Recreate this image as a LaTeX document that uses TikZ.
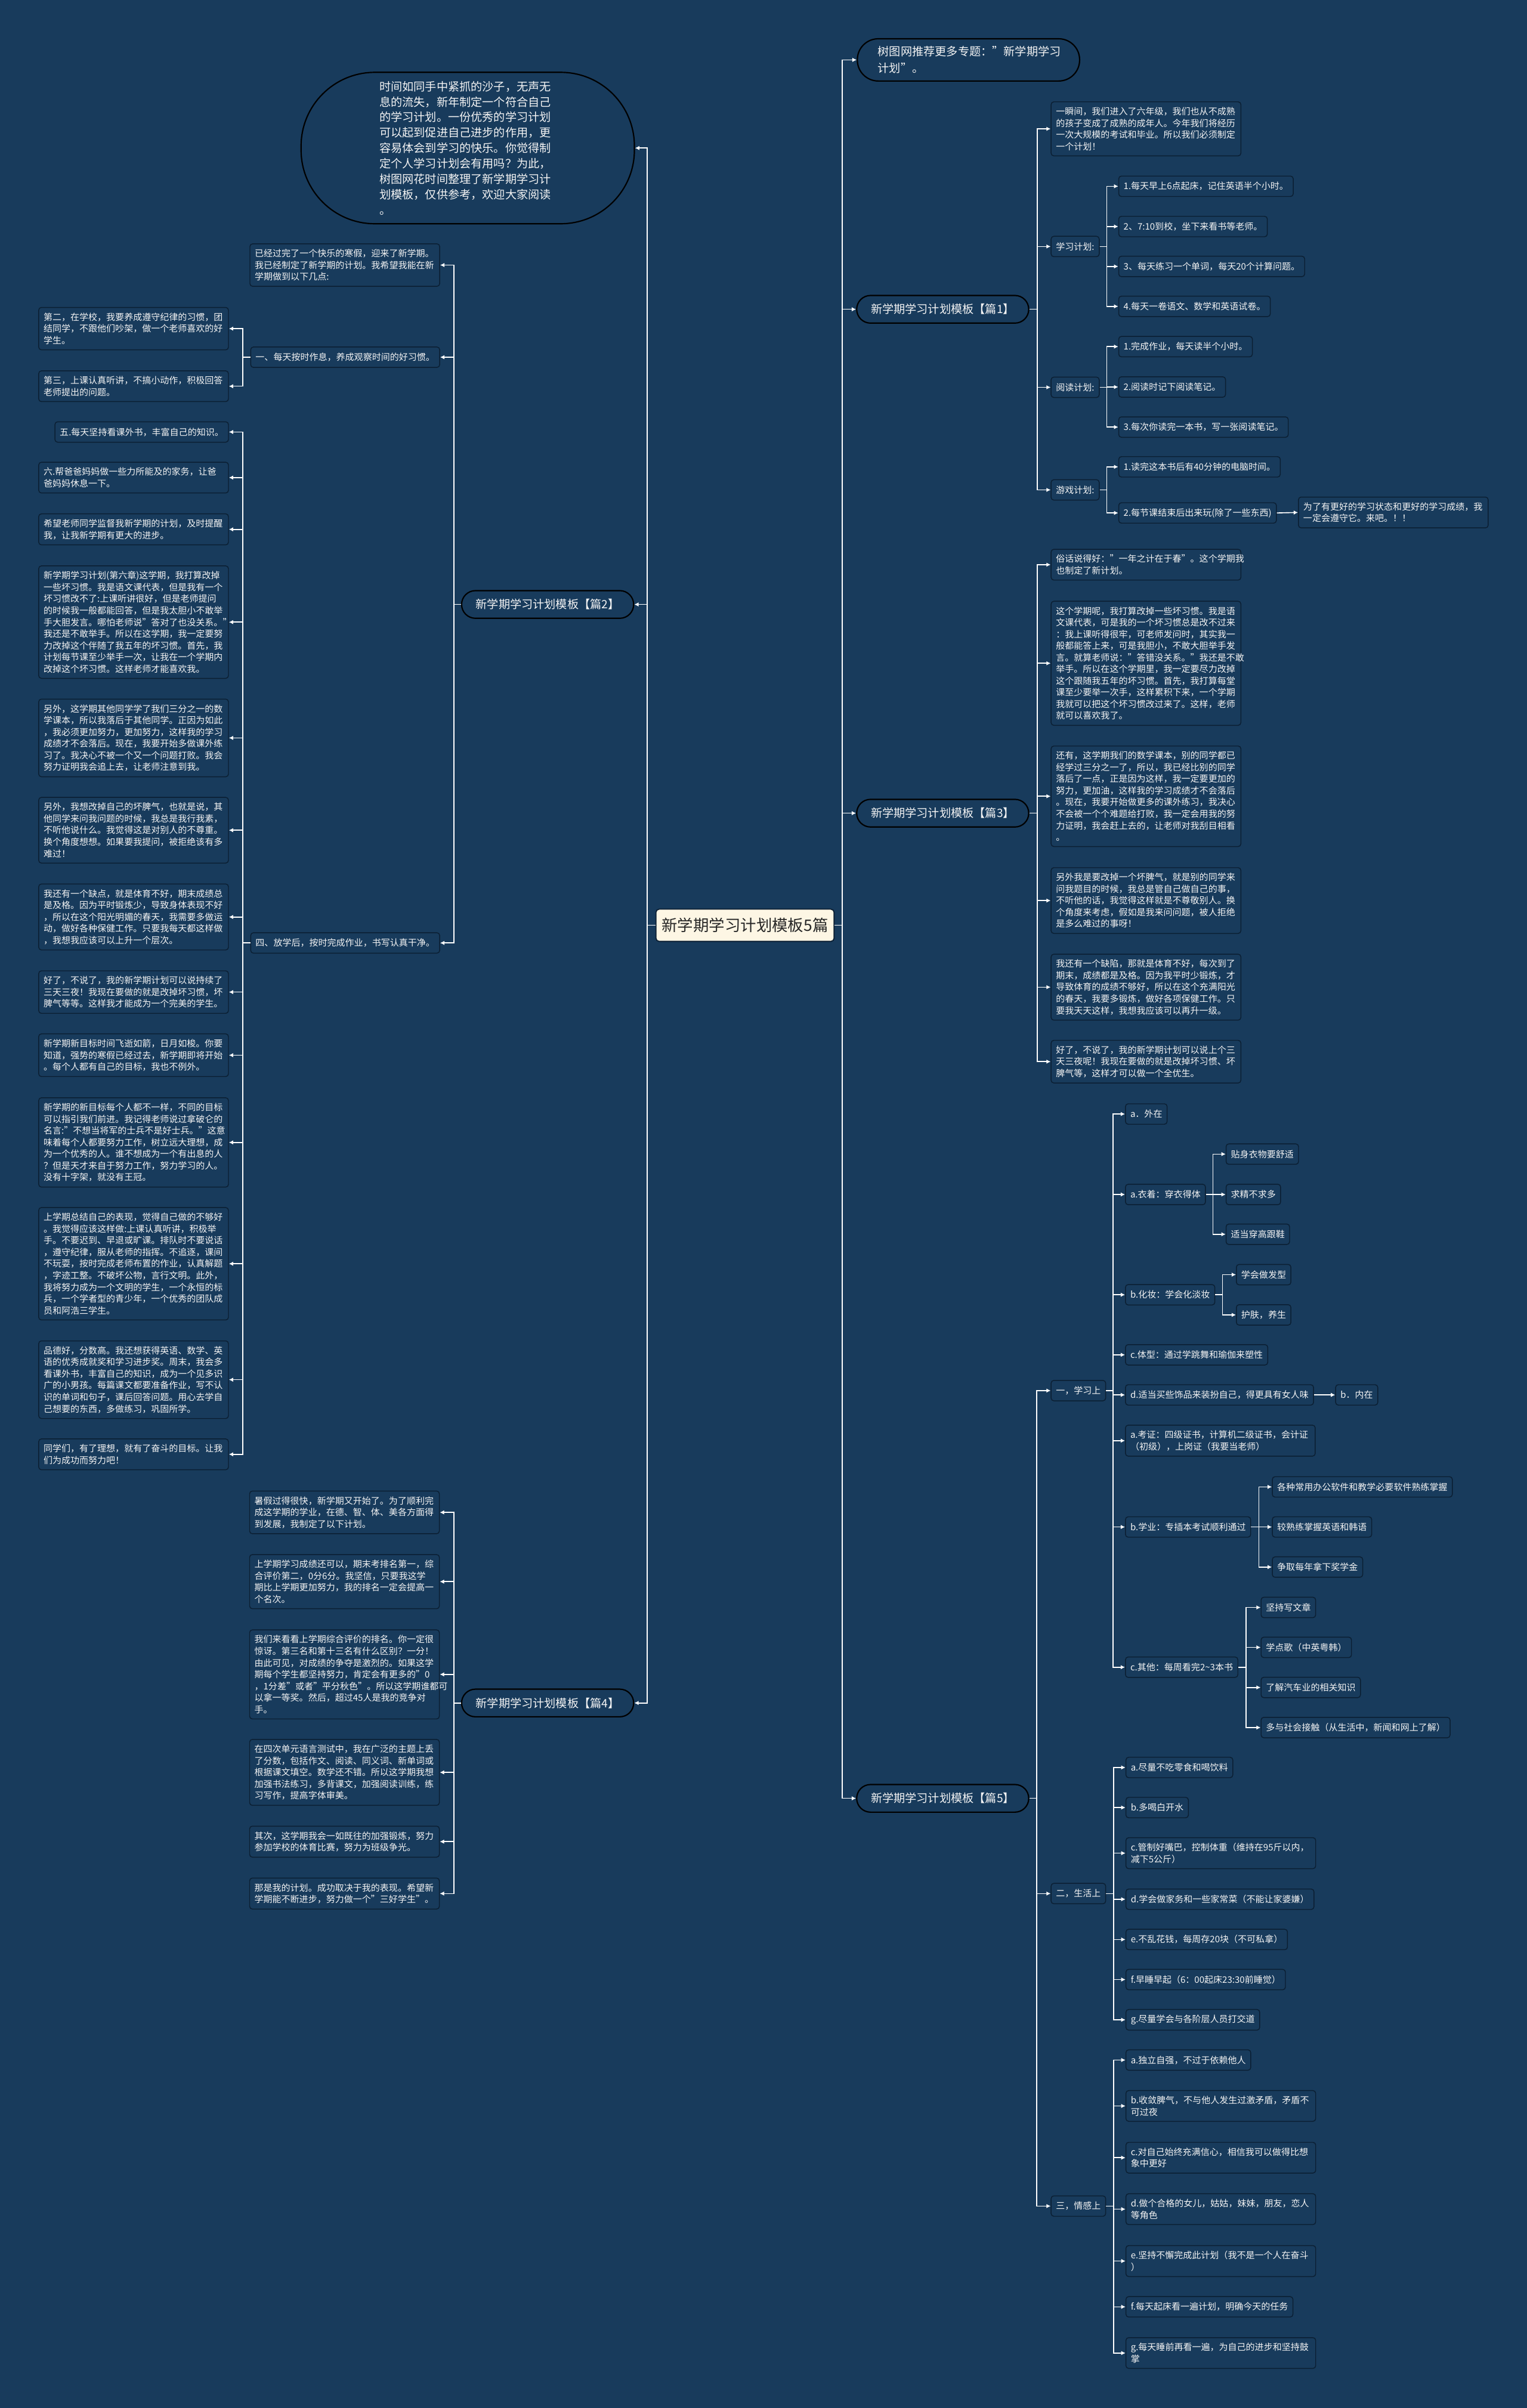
\documentclass[tikz,border=0pt]{standalone}
\usepackage{fontspec}
\setmainfont{Noto Sans CJK SC}
\usetikzlibrary{arrows.meta}
\definecolor{bgblue}{HTML}{183B5C}
\definecolor{edgedark}{HTML}{0B1F33}
\definecolor{rootfill}{HTML}{FDF6E4}
\definecolor{inkwhite}{HTML}{F4F4F4}

\begin{document}
\begin{tikzpicture}[
    x=0.05cm, y=-0.05cm,
    >={Latex[length=4pt,width=4pt]},
    rootbox/.style={draw=edgedark, line width=1pt, fill=rootfill, rounded corners=3pt, text=black!85, font=\fontsize{14.6}{16}\selectfont, minimum width=5.8cm, minimum height=1.05cm},
    topic/.style={draw=black, line width=1.2pt, fill=bgblue, rounded corners=0.45cm, text=inkwhite, font=\fontsize{10.6}{14}\selectfont, minimum width=5.6cm, minimum height=0.9cm},
    notebox/.style={topic, rounded corners=0.68cm, minimum width=7.235cm, minimum height=1.375cm, text width=5.9cm, align=left, font=\fontsize{10.6}{15.6}\selectfont},
    introbox/.style={topic, rounded corners=2.4cm, minimum width=10.85cm, minimum height=4.93cm, text width=5.75cm, align=left, font=\fontsize{10.6}{14.3}\selectfont},
    leaf/.style={draw=edgedark, line width=0.8pt, fill=bgblue, rounded corners=2.5pt, text=inkwhite, font=\fontsize{8.3}{10.8}\selectfont, inner xsep=4.5pt, inner ysep=5pt, minimum height=0.665cm, align=left},
    wide/.style={leaf, text width=5.86cm},
    arrow/.style={->, draw=white, line width=0.9pt}
  ]
    \useasboundingbox (0,0) rectangle (994,1568);
    \fill[bgblue] (0,0) rectangle (994,1568);

    % centre
    \node[rootbox] (root) at (485,602.5) {新学期学习计划模板5篇};

    % left half
    \node[introbox] (intro) at (304.5,96.4) {时间如同手中紧抓的沙子，无声无\\息的流失，新年制定一个符合自己\\的学习计划。一份优秀的学习计划\\可以起到促进自己进步的作用，更\\容易体会到学习的快乐。你觉得制\\定个人学习计划会有用吗？为此，\\树图网花时间整理了新学期学习计\\划模板，仅供参考，欢迎大家阅读\\。};
    \node[topic] (p2) at (356.5,393.6) {新学期学习计划模板【篇2】};
    \node[topic] (p4) at (356.5,1108.9) {新学期学习计划模板【篇4】};

    \node[wide, anchor=east] (winter) at (286.5,172.6) {已经过完了一个快乐的寒假，迎来了新学期。\\我已经制定了新学期的计划。我希望我能在新\\学期做到以下几点:};
    \node[leaf, anchor=east] (rest) at (286.5,232.6) {一、每天按时作息，养成观察时间的好习惯。};
    \node[leaf, anchor=east] (after) at (286.5,614) {四、放学后，按时完成作业，书写认真干净。};

    \node[wide, anchor=east] (second) at (149,214) {第二，在学校，我要养成遵守纪律的习惯，团\\结同学，不跟他们吵架，做一个老师喜欢的好\\学生。};
    \node[wide, anchor=east] (third) at (149,251.5) {第三，上课认真听讲，不搞小动作，积极回答\\老师提出的问题。};

    \node[leaf, anchor=east] (five) at (149,281.3) {五.每天坚持看课外书，丰富自己的知识。};
    \node[wide, anchor=east] (six) at (149,311) {六.帮爸爸妈妈做一些力所能及的家务，让爸\\爸妈妈休息一下。};
    \node[wide, anchor=east] (hope) at (149,344.7) {希望老师同学监督我新学期的计划，及时提醒\\我，让我新学期有更大的进步。};
    \node[wide, anchor=east] (ch6) at (149,405.1) {新学期学习计划(第六章)这学期，我打算改掉\\一些坏习惯。我是语文课代表，但是我有一个\\坏习惯改不了:上课听讲很好，但是老师提问\\的时候我一般都能回答，但是我太胆小不敢举\\手大胆发言。哪怕老师说"答对了也没关系。"\\我还是不敢举手。所以在这学期，我一定要努\\力改掉这个伴随了我五年的坏习惯。首先，我\\计划每节课至少举手一次，让我在一个学期内\\改掉这个坏习惯。这样老师才能喜欢我。};
    \node[wide, anchor=east] (math) at (149,480.5) {另外，这学期其他同学学了我们三分之一的数\\学课本，所以我落后于其他同学。正因为如此\\，我必须更加努力，更加努力，这样我的学习\\成绩才不会落后。现在，我要开始多做课外练\\习了。我决心不被一个又一个问题打败。我会\\努力证明我会追上去，让老师注意到我。};
    \node[wide, anchor=east] (temper) at (149,540.6) {另外，我想改掉自己的坏脾气，也就是说，其\\他同学来问我问题的时候，我总是我行我素，\\不听他说什么。我觉得这是对别人的不尊重。\\换个角度想想。如果要我提问，被拒绝该有多\\难过！};
    \node[wide, anchor=east] (sport) at (149,597.1) {我还有一个缺点，就是体育不好，期末成绩总\\是及格。因为平时锻炼少，导致身体表现不好\\，所以在这个阳光明媚的春天，我需要多做运\\动，做好各种保健工作。只要我每天都这样做\\，我想我应该可以上升一个层次。};
    \node[wide, anchor=east] (enough) at (149,646) {好了，不说了，我的新学期计划可以说持续了\\三天三夜！我现在要做的就是改掉坏习惯，坏\\脾气等等。这样我才能成为一个完美的学生。};
    \node[wide, anchor=east] (goal) at (149,687.1) {新学期新目标时间飞逝如箭，日月如梭。你要\\知道，强势的寒假已经过去，新学期即将开始\\。每个人都有自己的目标，我也不例外。};
    \node[wide, anchor=east] (ideal) at (149,743.9) {新学期的新目标每个人都不一样，不同的目标\\可以指引我们前进。我记得老师说过拿破仑的\\名言:"不想当将军的士兵不是好士兵。"这意\\味着每个人都要努力工作，树立远大理想，成\\为一个优秀的人。谁不想成为一个有出息的人\\？但是天才来自于努力工作，努力学习的人。\\没有十字架，就没有王冠。};
    \node[wide, anchor=east] (review) at (149,822.9) {上学期总结自己的表现，觉得自己做的不够好\\。我觉得应该这样做:上课认真听讲，积极举\\手。不要迟到、早退或旷课。排队时不要说话\\，遵守纪律，服从老师的指挥。不追逐，课间\\不玩耍，按时完成老师布置的作业，认真解题\\，字迹工整。不破坏公物，言行文明。此外，\\我将努力成为一个文明的学生，一个永恒的标\\兵，一个学者型的青少年，一个优秀的团队成\\员和阿浩三学生。};
    \node[wide, anchor=east] (moral) at (149,898.4) {品德好，分数高。我还想获得英语、数学、英\\语的优秀成就奖和学习进步奖。周末，我会多\\看课外书，丰富自己的知识，成为一个见多识\\广的小男孩。每篇课文都要准备作业，写不认\\识的单词和句子，课后回答问题。用心去学自\\己想要的东西，多做练习，巩固所学。};
    \node[wide, anchor=east] (mates) at (149,947) {同学们，有了理想，就有了奋斗的目标。让我\\们为成功而努力吧！};

    \node[wide, anchor=east] (summer) at (286.3,984.8) {暑假过得很快，新学期又开始了。为了顺利完\\成这学期的学业，在德、智、体、美各方面得\\到发展，我制定了以下计划。};
    \node[wide, anchor=east] (rank) at (286.3,1029.9) {上学期学习成绩还可以，期末考排名第一，综\\合评价第二，0分6分。我坚信，只要我这学\\期比上学期更加努力，我的排名一定会提高一\\个名次。};
    \node[wide, anchor=east] (score) at (286.3,1090.3) {我们来看看上学期综合评价的排名。你一定很\\惊讶。第三名和第十三名有什么区别？一分！\\由此可见，对成绩的争夺是激烈的。如果这学\\期每个学生都坚持努力，肯定会有更多的"0\\，1分差"或者"平分秋色"。所以这学期谁都可\\以拿一等奖。然后，超过45人是我的竞争对\\手。};
    \node[wide, anchor=east] (lang) at (286.3,1154.1) {在四次单元语言测试中，我在广泛的主题上丢\\了分数，包括作文、阅读、同义词、新单词或\\根据课文填空。数学还不错。所以这学期我想\\加强书法练习，多背课文，加强阅读训练，练\\习写作，提高字体审美。};
    \node[wide, anchor=east] (train) at (286.3,1199.2) {其次，这学期我会一如既往的加强锻炼，努力\\参加学校的体育比赛，努力为班级争光。};
    \node[wide, anchor=east] (close) at (286.3,1233) {那是我的计划。成功取决于我的表现。希望新\\学期能不断进步，努力做一个"三好学生"。};

    % right half
    \node[notebox, anchor=west] (tip) at (557.7,39) {树图网推荐更多专题："新学期学习\\计划"。};
    \node[topic] (p1) at (613.7,201.4) {新学期学习计划模板【篇1】};
    \node[topic] (p3) at (613.7,529.5) {新学期学习计划模板【篇3】};
    \node[topic] (p5) at (613.7,1171) {新学期学习计划模板【篇5】};

    \node[wide, anchor=west] (grade) at (684,83.9) {一瞬间，我们进入了六年级，我们也从不成熟\\的孩子变成了成熟的成年人。今年我们将经历\\一次大规模的考试和毕业。所以我们必须制定\\一个计划！};
    \node[leaf, anchor=west] (study) at (684,160.5) {学习计划:};
    \node[leaf, anchor=west] (read) at (684,252.2) {阅读计划:};
    \node[leaf, anchor=west] (game) at (684,319) {游戏计划:};
    \node[leaf, anchor=west] (s1) at (728,121.3) {1.每天早上6点起床，记住英语半个小时。};
    \node[leaf, anchor=west] (s2) at (728,147.5) {2、7:10到校，坐下来看书等老师。};
    \node[leaf, anchor=west] (s3) at (728,173.5) {3、每天练习一个单词，每天20个计算问题。};
    \node[leaf, anchor=west] (s4) at (728,199.5) {4.每天一卷语文、数学和英语试卷。};
    \node[leaf, anchor=west] (r1) at (728,225.7) {1.完成作业，每天读半个小时。};
    \node[leaf, anchor=west] (r2) at (728,252) {2.阅读时记下阅读笔记。};
    \node[leaf, anchor=west] (r3) at (728,278.1) {3.每次你读完一本书，写一张阅读笔记。};
    \node[leaf, anchor=west] (g1) at (728,304) {1.读完这本书后有40分钟的电脑时间。};
    \node[leaf, anchor=west] (g2) at (728,334) {2.每节课结束后出来玩(除了一些东西)};
    \node[wide, anchor=west] (promise) at (845,333.7) {为了有更好的学习状态和更好的学习成绩，我\\一定会遵守它。来吧。！！};

    \node[wide, anchor=west] (saying) at (684,367.7) {俗话说得好："一年之计在于春"。这个学期我\\也制定了新计划。};
    \node[wide, anchor=west] (habit) at (684,431.9) {这个学期呢，我打算改掉一些坏习惯。我是语\\文课代表，可是我的一个坏习惯总是改不过来\\：我上课听得很牢，可老师发问时，其实我一\\般都能答上来，可是我胆小，不敢大胆举手发\\言。就算老师说："答错没关系。"我还是不敢\\举手。所以在这个学期里，我一定要尽力改掉\\这个跟随我五年的坏习惯。首先，我打算每堂\\课至少要举一次手，这样累积下来，一个学期\\我就可以把这个坏习惯改过来了。这样，老师\\就可以喜欢我了。};
    \node[wide, anchor=west] (behind) at (684,518.5) {还有，这学期我们的数学课本，别的同学都已\\经学过三分之一了，所以，我已经比别的同学\\落后了一点，正是因为这样，我一定要更加的\\努力，更加油，这样我的学习成绩才不会落后\\。现在，我要开始做更多的课外练习，我决心\\不会被一个个难题给打败，我一定会用我的努\\力证明，我会赶上去的，让老师对我刮目相看\\。};
    \node[wide, anchor=west] (mood) at (684,586.4) {另外我是要改掉一个坏脾气，就是别的同学来\\问我题目的时候，我总是管自己做自己的事，\\不听他的话，我觉得这样就是不尊敬别人。换\\个角度来考虑，假如是我来问问题，被人拒绝\\是多么难过的事呀！};
    \node[wide, anchor=west] (weak) at (684,642.8) {我还有一个缺陷，那就是体育不好，每次到了\\期末，成绩都是及格。因为我平时少锻炼，才\\导致体育的成绩不够好，所以在这个充满阳光\\的春天，我要多锻炼，做好各项保健工作。只\\要我天天这样，我想我应该可以再升一级。};
    \node[wide, anchor=west] (ending) at (684,691.3) {好了，不说了，我的新学期计划可以说上个三\\天三夜呢！我现在要做的就是改掉坏习惯、坏\\脾气等，这样才可以做一个全优生。};

    \node[leaf, anchor=west] (learn) at (684,905.5) {一，学习上};
    \node[leaf, anchor=west] (life) at (684,1233) {二，生活上};
    \node[leaf, anchor=west] (feel) at (684,1436.5) {三，情感上};

    \node[leaf, anchor=west] (outer) at (732.4,725.4) {a．外在};
    \node[leaf, anchor=west] (dress) at (732.4,777.8) {a.衣着：穿衣得体};
    \node[leaf, anchor=west] (dress1) at (797.9,751.5) {贴身衣物要舒适};
    \node[leaf, anchor=west] (dress2) at (797.9,777.8) {求精不求多};
    \node[leaf, anchor=west] (dress3) at (797.9,803.7) {适当穿高跟鞋};
    \node[leaf, anchor=west] (makeup) at (732.4,843.1) {b.化妆：学会化淡妆};
    \node[leaf, anchor=west] (makeup1) at (804.6,830) {学会做发型};
    \node[leaf, anchor=west] (makeup2) at (804.6,856.2) {护肤，养生};
    \node[leaf, anchor=west] (shape) at (732.4,882.2) {c.体型：通过学跳舞和瑜伽来塑性};
    \node[leaf, anchor=west] (jewel) at (732.4,908.3) {d.适当买些饰品来装扮自己，得更具有女人味};
    \node[leaf, anchor=west] (inner) at (869.2,908.3) {b．内在};
    \node[wide, anchor=west] (cert) at (732.4,938.1) {a.考证：四级证书，计算机二级证书，会计证\\（初级），上岗证（我要当老师）};
    \node[leaf, anchor=west] (exam) at (732.4,994.3) {b.学业：专插本考试顺利通过};
    \node[leaf, anchor=west] (exam1) at (828,968.2) {各种常用办公软件和教学必要软件熟练掌握};
    \node[leaf, anchor=west] (exam2) at (828,994.3) {较熟练掌握英语和韩语};
    \node[leaf, anchor=west] (exam3) at (828,1020.4) {争取每年拿下奖学金};
    \node[leaf, anchor=west] (other) at (732.4,1085.6) {c.其他：每周看完2\textasciitilde3本书};
    \node[leaf, anchor=west] (other1) at (820.7,1046.7) {坚持写文章};
    \node[leaf, anchor=west] (other2) at (820.7,1072.7) {学点歌（中英粤韩）};
    \node[leaf, anchor=west] (other3) at (820.7,1098.8) {了解汽车业的相关知识};
    \node[leaf, anchor=west] (other4) at (820.7,1124.9) {多与社会接触（从生活中，新闻和网上了解）};

    \node[leaf, anchor=west] (l1) at (732.7,1150.9) {a.尽量不吃零食和喝饮料};
    \node[leaf, anchor=west] (l2) at (732.7,1177) {b.多喝白开水};
    \node[wide, anchor=west] (l3) at (732.7,1206.7) {c.管制好嘴巴，控制体重（维持在95斤以内，\\减下5公斤）};
    \node[leaf, anchor=west] (l4) at (732.7,1236.7) {d.学会做家务和一些家常菜（不能让家婆嫌）};
    \node[leaf, anchor=west] (l5) at (732.7,1262.9) {e.不乱花钱，每周存20块（不可私拿）};
    \node[leaf, anchor=west] (l6) at (732.7,1289) {f.早睡早起（6：00起床23:30前睡觉）};
    \node[leaf, anchor=west] (l7) at (732.7,1315.2) {g.尽量学会与各阶层人员打交道};

    \node[leaf, anchor=west] (f1) at (732.7,1341.4) {a.独立自强，不过于依赖他人};
    \node[wide, anchor=west] (f2) at (732.7,1371.3) {b.收敛脾气，不与他人发生过激矛盾，矛盾不\\可过夜};
    \node[wide, anchor=west] (f3) at (732.7,1405) {c.对自己始终充满信心，相信我可以做得比想\\象中更好};
    \node[wide, anchor=west] (f4) at (732.7,1438.5) {d.做个合格的女儿，姑姑，妹妹，朋友，恋人\\等角色};
    \node[wide, anchor=west] (f5) at (732.7,1472.3) {e.坚持不懈完成此计划（我不是一个人在奋斗\\）};
    \node[leaf, anchor=west] (f6) at (732.7,1502.1) {f.每天起床看一遍计划，明确今天的任务};
    \node[wide, anchor=west] (f7) at (732.7,1532.2) {g.每天睡前再看一遍，为自己的进步和坚持鼓\\掌};

    % connectors, left
    \draw[arrow] (root.west) -- ++(-5.3,0) |- (intro.east);
    \draw[arrow] (root.west) -- ++(-5.3,0) |- (p2.east);
    \draw[arrow] (root.west) -- ++(-5.3,0) |- (p4.east);
    \draw[arrow] (p2.west) -- ++(-4.6,0) |- (winter.east);
    \draw[arrow] (p2.west) -- ++(-4.6,0) |- (rest.east);
    \draw[arrow] (p2.west) -- ++(-4.6,0) |- (after.east);
    \draw[arrow] (rest.west) -- ++(-5,0) |- (second.east);
    \draw[arrow] (rest.west) -- ++(-5,0) |- (third.east);
    \draw[arrow] (after.west) -- ++(-5,0) |- (five.east);
    \draw[arrow] (after.west) -- ++(-5,0) |- (six.east);
    \draw[arrow] (after.west) -- ++(-5,0) |- (hope.east);
    \draw[arrow] (after.west) -- ++(-5,0) |- (ch6.east);
    \draw[arrow] (after.west) -- ++(-5,0) |- (math.east);
    \draw[arrow] (after.west) -- ++(-5,0) |- (temper.east);
    \draw[arrow] (after.west) -- ++(-5,0) |- (sport.east);
    \draw[arrow] (after.west) -- ++(-5,0) |- (enough.east);
    \draw[arrow] (after.west) -- ++(-5,0) |- (goal.east);
    \draw[arrow] (after.west) -- ++(-5,0) |- (ideal.east);
    \draw[arrow] (after.west) -- ++(-5,0) |- (review.east);
    \draw[arrow] (after.west) -- ++(-5,0) |- (moral.east);
    \draw[arrow] (after.west) -- ++(-5,0) |- (mates.east);
    \draw[arrow] (p4.west) -- ++(-4.6,0) |- (summer.east);
    \draw[arrow] (p4.west) -- ++(-4.6,0) |- (rank.east);
    \draw[arrow] (p4.west) -- ++(-4.6,0) |- (score.east);
    \draw[arrow] (p4.west) -- ++(-4.6,0) |- (lang.east);
    \draw[arrow] (p4.west) -- ++(-4.6,0) |- (train.east);
    \draw[arrow] (p4.west) -- ++(-4.6,0) |- (close.east);

    % connectors, right
    \draw[arrow] (root.east) -- ++(5,0) |- (tip.west);
    \draw[arrow] (root.east) -- ++(5,0) |- (p1.west);
    \draw[arrow] (root.east) -- ++(5,0) |- (p3.west);
    \draw[arrow] (root.east) -- ++(5,0) |- (p5.west);
    \draw[arrow] (p1.east) -- ++(5.2,0) |- (grade.west);
    \draw[arrow] (p1.east) -- ++(5.2,0) |- (study.west);
    \draw[arrow] (p1.east) -- ++(5.2,0) |- (read.west);
    \draw[arrow] (p1.east) -- ++(5.2,0) |- (game.west);
    \draw[arrow] (study.east) -- ++(4.7,0) |- (s1.west);
    \draw[arrow] (study.east) -- ++(4.7,0) |- (s2.west);
    \draw[arrow] (study.east) -- ++(4.7,0) |- (s3.west);
    \draw[arrow] (study.east) -- ++(4.7,0) |- (s4.west);
    \draw[arrow] (read.east) -- ++(4.7,0) |- (r1.west);
    \draw[arrow] (read.east) -- ++(4.7,0) |- (r2.west);
    \draw[arrow] (read.east) -- ++(4.7,0) |- (r3.west);
    \draw[arrow] (game.east) -- ++(4.7,0) |- (g1.west);
    \draw[arrow] (game.east) -- ++(4.7,0) |- (g2.west);
    \draw[arrow] (g2.east) -- (promise.west);
    \draw[arrow] (p3.east) -- ++(5.2,0) |- (saying.west);
    \draw[arrow] (p3.east) -- ++(5.2,0) |- (habit.west);
    \draw[arrow] (p3.east) -- ++(5.2,0) |- (behind.west);
    \draw[arrow] (p3.east) -- ++(5.2,0) |- (mood.west);
    \draw[arrow] (p3.east) -- ++(5.2,0) |- (weak.west);
    \draw[arrow] (p3.east) -- ++(5.2,0) |- (ending.west);
    \draw[arrow] (p5.east) -- ++(4.8,0) |- (learn.west);
    \draw[arrow] (p5.east) -- ++(4.8,0) |- (life.west);
    \draw[arrow] (p5.east) -- ++(4.8,0) |- (feel.west);
    \draw[arrow] (learn.east) -- ++(4.4,0) |- (outer.west);
    \draw[arrow] (learn.east) -- ++(4.4,0) |- (dress.west);
    \draw[arrow] (learn.east) -- ++(4.4,0) |- (makeup.west);
    \draw[arrow] (learn.east) -- ++(4.4,0) |- (shape.west);
    \draw[arrow] (learn.east) -- ++(4.4,0) |- (jewel.west);
    \draw[arrow] (learn.east) -- ++(4.4,0) |- (cert.west);
    \draw[arrow] (learn.east) -- ++(4.4,0) |- (exam.west);
    \draw[arrow] (learn.east) -- ++(4.4,0) |- (other.west);
    \draw[arrow] (dress.east) -- ++(4.6,0) |- (dress1.west);
    \draw[arrow] (dress.east) -- ++(4.6,0) |- (dress2.west);
    \draw[arrow] (dress.east) -- ++(4.6,0) |- (dress3.west);
    \draw[arrow] (makeup.east) -- ++(4.7,0) |- (makeup1.west);
    \draw[arrow] (makeup.east) -- ++(4.7,0) |- (makeup2.west);
    \draw[arrow] (jewel.east) -- (inner.west);
    \draw[arrow] (exam.east) -- ++(5,0) |- (exam1.west);
    \draw[arrow] (exam.east) -- ++(5,0) |- (exam2.west);
    \draw[arrow] (exam.east) -- ++(5,0) |- (exam3.west);
    \draw[arrow] (other.east) -- ++(5,0) |- (other1.west);
    \draw[arrow] (other.east) -- ++(5,0) |- (other2.west);
    \draw[arrow] (other.east) -- ++(5,0) |- (other3.west);
    \draw[arrow] (other.east) -- ++(5,0) |- (other4.west);
    \draw[arrow] (life.east) -- ++(5,0) |- (l1.west);
    \draw[arrow] (life.east) -- ++(5,0) |- (l2.west);
    \draw[arrow] (life.east) -- ++(5,0) |- (l3.west);
    \draw[arrow] (life.east) -- ++(5,0) |- (l4.west);
    \draw[arrow] (life.east) -- ++(5,0) |- (l5.west);
    \draw[arrow] (life.east) -- ++(5,0) |- (l6.west);
    \draw[arrow] (life.east) -- ++(5,0) |- (l7.west);
    \draw[arrow] (feel.east) -- ++(5,0) |- (f1.west);
    \draw[arrow] (feel.east) -- ++(5,0) |- (f2.west);
    \draw[arrow] (feel.east) -- ++(5,0) |- (f3.west);
    \draw[arrow] (feel.east) -- ++(5,0) |- (f4.west);
    \draw[arrow] (feel.east) -- ++(5,0) |- (f5.west);
    \draw[arrow] (feel.east) -- ++(5,0) |- (f6.west);
    \draw[arrow] (feel.east) -- ++(5,0) |- (f7.west);
  \end{tikzpicture}
\end{document}
